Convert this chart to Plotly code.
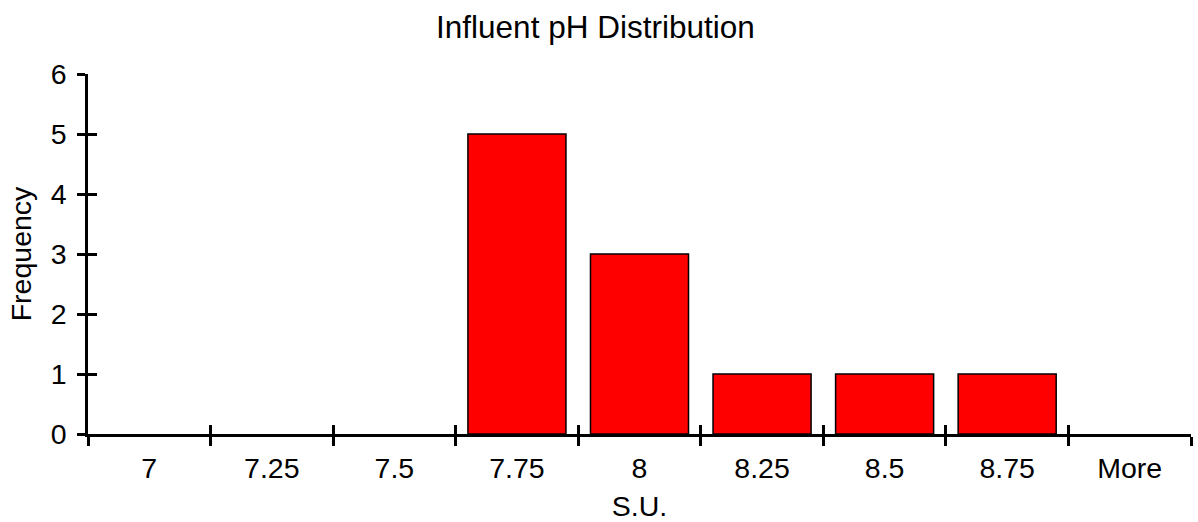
import plotly.graph_objects as go

categories = ["7", "7.25", "7.5", "7.75", "8", "8.25", "8.5", "8.75", "More"]
frequency = [0, 0, 0, 5, 3, 1, 1, 1, 0]
y_ticks = [0, 1, 2, 3, 4, 5, 6]

FONT = "Liberation Sans, Arial, sans-serif"

# hide outlines of empty (zero-height) bars
outline_widths = [1.5 if v > 0 else 0 for v in frequency]

fig = go.Figure()
fig.add_trace(go.Bar(
    x=categories, y=frequency,
    marker=dict(color="#FF0000", line=dict(color="black", width=outline_widths)),
    showlegend=False, xaxis="x", yaxis="y",
))
# invisible copy on overlay axes (used to draw crossing tick marks)
fig.add_trace(go.Bar(
    x=categories, y=frequency, opacity=0, hoverinfo="skip",
    marker=dict(line=dict(width=0)),
    showlegend=False, xaxis="x2", yaxis="y2",
))

axis_common = dict(showline=True, linecolor="black", linewidth=2.5, automargin=False,
                   tickcolor="black", tickwidth=2.5, showgrid=False, zeroline=False)

fig.update_layout(
    width=1198, height=522,
    margin=dict(l=88, r=7, t=74, b=88, autoexpand=False),
    plot_bgcolor="white", paper_bgcolor="white",
    bargap=0.2,
    font=dict(family=FONT, size=28.5, color="black"),
    title=dict(text="Influent pH Distribution", x=0.497, xref="container", xanchor="center",
               y=1 - 27 / 522, yref="container", yanchor="middle",
               font=dict(family=FONT, size=31.5, color="black")),
    xaxis=dict(type="category", categoryorder="array", categoryarray=categories,
               ticks="outside", ticklen=9, tickson="boundaries", ticklabelstandoff=7,
               title=dict(text="S.U.", standoff=14, font=dict(size=28.5)),
               tickfont=dict(size=28.5), **axis_common),
    yaxis=dict(range=[0, 6], tickvals=y_ticks, ticks="outside", ticklen=8, ticklabelstandoff=5,
               title=dict(text="Frequency", standoff=11, font=dict(size=28.5)),
               tickfont=dict(size=28.5), **axis_common),
    xaxis2=dict(type="category", categoryorder="array", categoryarray=categories,
                overlaying="x", anchor="y", side="bottom",
                ticks="inside", ticklen=9, tickson="boundaries",
                showticklabels=False, **axis_common),
    yaxis2=dict(range=[0, 6], tickvals=y_ticks, overlaying="y", anchor="x", side="left",
                ticks="inside", ticklen=9, showticklabels=False, **axis_common),
)

fig.write_html("out.html",
               config={"displayModeBar": False},
               post_script="document.body.style.margin='0';document.body.style.padding='0';")
